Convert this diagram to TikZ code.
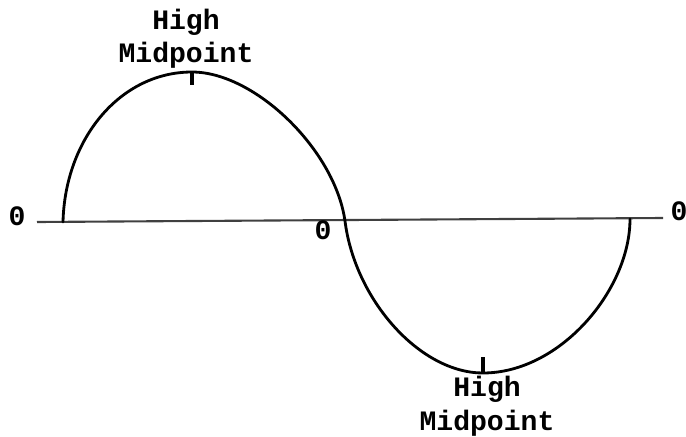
\documentclass[tikz,border=0pt]{standalone}
\usepackage{fontspec}
\setmonofont{Liberation Mono}
\usepackage{tikz}
\usetikzlibrary{positioning, calc}

\begin{document}
\begin{tikzpicture}[
    x=0.02cm, y=-0.02cm,
    wave/.style={line width=1.6pt, line cap=round},
    axisline/.style={line width=1.2pt, color=black!75},
    tickmark/.style={line width=1.8pt},
    zerolabel/.style={font=\ttfamily\bfseries\fontsize{16}{19}\selectfont, inner sep=0pt},
    midlabel/.style={font=\ttfamily\bfseries\fontsize{16}{19}\selectfont, align=center, inner sep=0pt},
]
    \useasboundingbox (0,0) rectangle (686,436);

    % Curve points
    \coordinate (start) at (63,222);
    \coordinate (peak) at (192,72);
    \coordinate (cross) at (345,221);
    \coordinate (trough) at (483,373);
    \coordinate (end) at (630,219);
    \coordinate (axisL) at (37,222);
    \coordinate (axisR) at (663,218);

    % Axis
    \draw[axisline] (axisL) -- (axisR);

    % Wave
    \draw[wave] (start) .. controls (65,139) and (120,72) .. (peak)
        .. controls (255,72) and (335,150) .. (cross)
        .. controls (355,300) and (420,373) .. (trough)
        .. controls (560,373) and (630,290) .. (end);

    % Midpoint ticks
    \draw[tickmark] (peak) -- ++(0,13);
    \draw[tickmark] (trough) -- ++(0,-16);

    % Labels
    \node[zerolabel] (zleft) at (17,216) {0};
    \node[zerolabel] (zmid) at (323,230) {0};
    \node[zerolabel] (zright) at (679,211) {0};
    \node[midlabel, anchor=south] (hightop) at (186,69) {High\\Midpoint};
    \node[midlabel, anchor=north] (highbot) at (487,376) {High\\Midpoint};

\end{tikzpicture}
\end{document}
